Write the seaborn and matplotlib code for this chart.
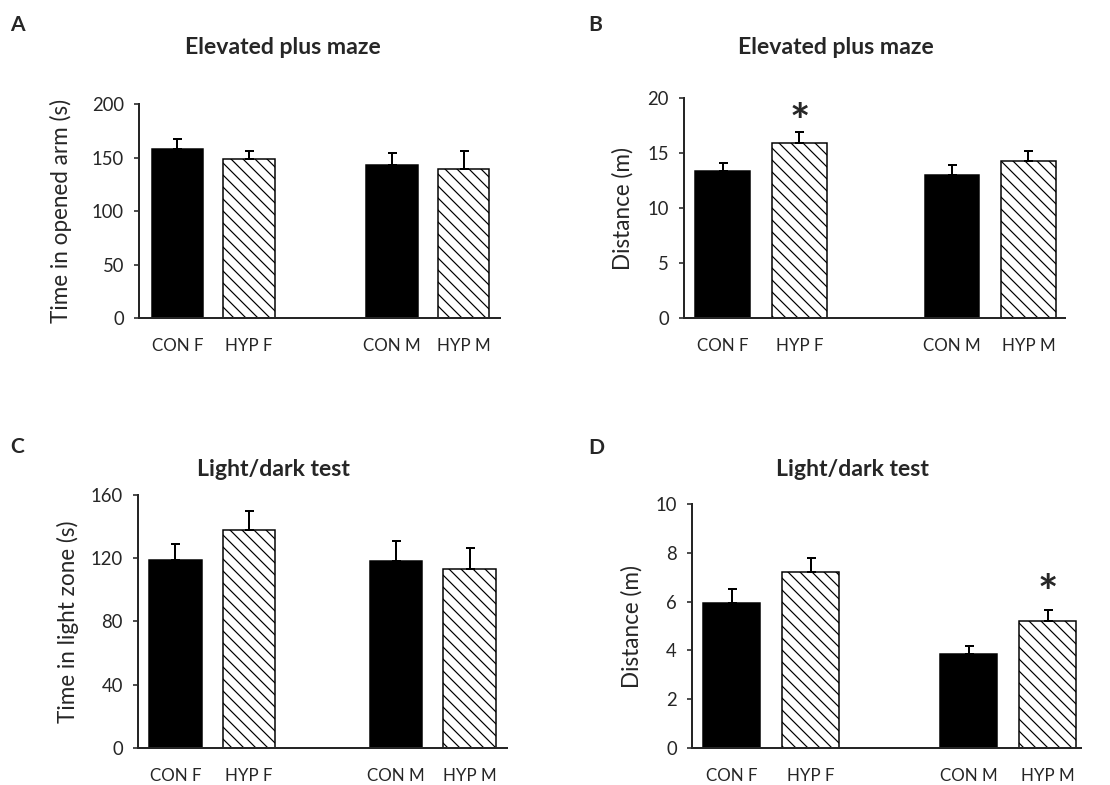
import numpy as np
import pandas as pd
import matplotlib
matplotlib.use('Agg')
import matplotlib.pyplot as plt
import seaborn as sns

# data (mean and upper SEM)
groups = ['CON F', 'HYP F', 'CON M', 'HYP M']
treatment = ['CON', 'HYP', 'CON', 'HYP']
order = ['CON F', 'HYP F', ' ', 'CON M', 'HYP M']

epm_time = [158, 149, 143, 139]
epm_time_sem = [9.5, 7.5, 11.5, 17.5]
epm_dist = [13.4, 15.9, 13.05, 14.3]
epm_dist_sem = [0.7, 1.0, 0.85, 0.9]
ld_time = [119, 138, 118, 113]
ld_time_sem = [10, 12, 13, 13.5]
ld_dist = [5.95, 7.2, 3.85, 5.2]
ld_dist_sem = [0.55, 0.6, 0.33, 0.46]

sns.set_style("ticks")
plt.rcParams['font.family'] = ['Lato', 'DejaVu Sans']
plt.rcParams['hatch.linewidth'] = 1.2

DPI = 72
W, H = 1110, 785
fig = plt.figure(figsize=(W / DPI, H / DPI), dpi=DPI)


def px_rect(left, right, bottom, top):
    return [left / W, 1 - bottom / H, (right - left) / W, (bottom - top) / H]


STAR_FS = 48

panels = [
    dict(letter='A', title='Elevated plus maze', px=(139, 500, 318.3, 104),
         xlim=(-0.535, 4.51), ylim=(0, 200), yticks=[0, 50, 100, 150, 200],
         ylabel='Time in opened arm (s)', means=epm_time, sems=epm_time_sem,
         star=None, label_right=72, letter_xy=(10, 25), title_xy=(283, 48)),
    dict(letter='B', title='Elevated plus maze', px=(684, 1065, 318.3, 98.3),
         xlim=(-0.51, 4.48), ylim=(0, 20), yticks=[0, 5, 10, 15, 20],
         ylabel='Distance (m)', means=epm_dist, sems=epm_dist_sem,
         star=('HYP F', 18.8), label_right=634, letter_xy=(588, 25), title_xy=(836, 48)),
    dict(letter='C', title='Light/dark test', px=(138, 507, 747.7, 495),
         xlim=(-0.51, 4.51), ylim=(0, 160), yticks=[0, 40, 80, 120, 160],
         ylabel='Time in light zone (s)', means=ld_time, sems=ld_time_sem,
         star=None, label_right=79, letter_xy=(10, 447), title_xy=(273, 470)),
    dict(letter='D', title='Light/dark test', px=(692, 1081, 747.7, 504.3),
         xlim=(-0.5, 4.42), ylim=(0, 10), yticks=[0, 2, 4, 6, 8, 10],
         ylabel='Distance (m)', means=ld_dist, sems=ld_dist_sem,
         star=('HYP M', 6.8), label_right=643, letter_xy=(588, 448), title_xy=(852, 470)),
]

for p in panels:
    left, right, bottom, top = p['px']
    ax = fig.add_axes(px_rect(left, right, bottom, top))
    df = pd.DataFrame({'group': groups, 'treatment': treatment, 'value': p['means']})
    sns.barplot(data=df, x='group', y='value', hue='treatment', order=order,
                palette={'CON': 'black', 'HYP': 'white'}, dodge=False, width=0.72,
                edgecolor='black', linewidth=1.5, errorbar=None, legend=False, ax=ax)

    # hatch the HYP bars and put upper-only error bars on every bar
    xs, tops, errs = [], [], []
    sem_of = dict(zip(groups, p['sems']))
    for bar in ax.patches:
        if bar.get_height() == 0 or np.isnan(bar.get_height()):
            continue
        if bar.get_facecolor()[0] > 0.5:
            bar.set_hatch('\\\\')
        cx = bar.get_x() + bar.get_width() / 2
        name = order[int(round(cx))]
        xs.append(cx)
        tops.append(bar.get_height())
        errs.append(sem_of[name])
    ax.errorbar(xs, tops, yerr=[np.zeros(len(errs)), errs], fmt='none',
                ecolor='black', elinewidth=2, capsize=4.5, capthick=2, zorder=1)

    if p['star'] is not None:
        ax.annotate('*', xy=(order.index(p['star'][0]), p['star'][1]),
                    xytext=(0, -0.56 * STAR_FS), textcoords='offset points',
                    ha='center', va='baseline', fontsize=STAR_FS, fontweight='bold')

    ax.set_xlim(*p['xlim'])
    ax.set_ylim(*p['ylim'])
    ax.set_yticks(p['yticks'])
    ax.set_xlabel('')
    ax.set_ylabel(p['ylabel'], fontsize=22.5)
    ax.yaxis.set_label_coords((p['label_right'] - left) / (right - left), 0.5)
    ax.tick_params(axis='x', length=0, pad=20, labelsize=17)
    ax.tick_params(axis='y', length=5, width=1.6, pad=10, labelsize=18.5)
    sns.despine(ax=ax)
    for s in ['left', 'bottom']:
        ax.spines[s].set_linewidth(2)

    fig.text(p['title_xy'][0] / W, 1 - p['title_xy'][1] / H, p['title'],
             ha='center', va='center', fontsize=23, fontweight='bold')
    fig.text(p['letter_xy'][0] / W, 1 - p['letter_xy'][1] / H, p['letter'],
             ha='left', va='center', fontsize=21, fontweight='bold')

fig.savefig('out.png', dpi=DPI)
